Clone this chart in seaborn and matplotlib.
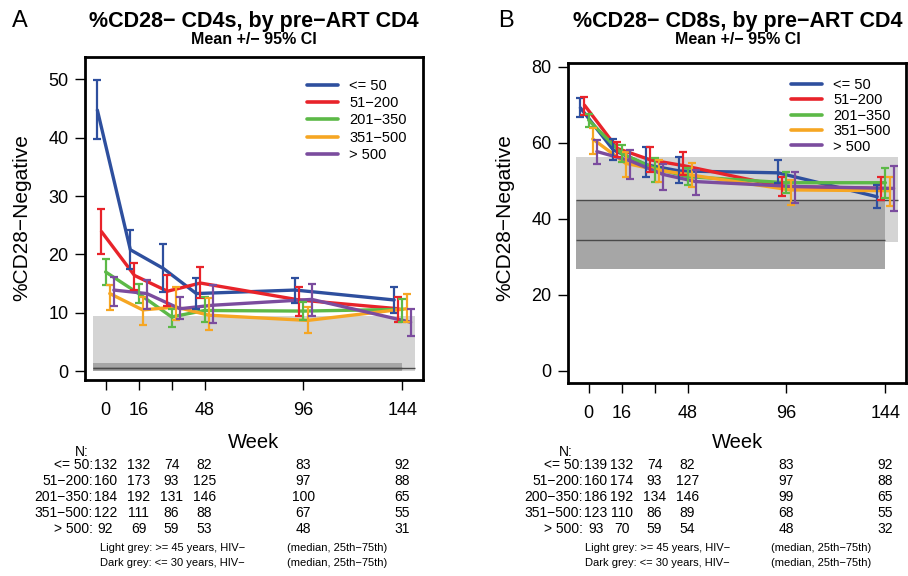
import numpy as np
import pandas as pd
import seaborn as sns
import matplotlib.pyplot as plt
from matplotlib import transforms

sns.set_style("ticks")
plt.rcParams['font.family'] = ['Liberation Sans', 'DejaVu Sans']
plt.rcParams['text.color'] = 'black'
plt.rcParams['axes.labelcolor'] = 'black'
plt.rcParams['xtick.color'] = 'black'
plt.rcParams['ytick.color'] = 'black'

M = "\u2212"

weeks = [0, 16, 32, 48, 96, 144]
groups = ["<= 50", "51" + M + "200", "201" + M + "350", "351" + M + "500", "> 500"]
offsets = [-4, -2, 0, 2, 4]  # small horizontal dodge per group
colors = ["#2E4F9E", "#E8232A", "#5CB947", "#F6A623", "#7B4C9E"]

# panel A: %CD28- CD4s (mean, lower CI, upper CI per group)
cd4_mean = [
    [44.7, 20.8, 17.6, 13.3, 13.9, 12.2],
    [23.9, 16.4, 13.7, 15.1, 12.2, 10.7],
    [17.0, 13.3, 9.3, 10.4, 10.3, 10.6],
    [13.3, 10.5, 11.0, 9.6, 8.7, 10.7],
    [13.9, 13.3, 10.7, 11.3, 12.3, 8.4],
]
cd4_lo = [
    [39.7, 17.5, 13.5, 10.6, 11.6, 9.9],
    [20.1, 13.9, 11.2, 12.5, 9.4, 8.4],
    [14.7, 11.6, 7.6, 8.4, 8.7, 8.4],
    [10.4, 7.9, 8.7, 7.1, 6.5, 8.4],
    [11.1, 10.7, 9.0, 8.2, 9.4, 6.0],
]
cd4_hi = [
    [49.8, 24.1, 21.7, 16.0, 16.0, 14.4],
    [27.7, 18.6, 16.4, 17.8, 14.4, 12.7],
    [19.2, 15.0, 10.7, 12.7, 11.9, 12.3],
    [14.7, 12.7, 14.4, 12.5, 11.0, 13.3],
    [16.1, 15.6, 12.7, 14.7, 15.0, 10.7],
]

# panel B: %CD28- CD8s
cd8_mean = [
    [69.2, 58.1, 54.2, 52.6, 52.1, 45.8],
    [69.9, 58.5, 55.5, 54.0, 48.5, 48.0],
    [66.0, 57.2, 53.3, 51.1, 49.5, 49.5],
    [61.0, 54.6, 52.8, 51.5, 47.6, 47.4],
    [57.7, 55.3, 51.7, 49.8, 48.5, 48.0],
]
cd8_lo = [
    [66.7, 55.5, 51.1, 49.3, 49.3, 42.8],
    [67.3, 56.3, 52.2, 51.5, 46.0, 45.0],
    [64.2, 55.0, 49.8, 48.8, 46.7, 45.4],
    [57.0, 51.1, 49.8, 48.5, 43.6, 43.4],
    [54.3, 50.6, 47.6, 46.3, 44.2, 42.1],
]
cd8_hi = [
    [71.8, 61.0, 59.0, 56.3, 55.5, 48.9],
    [72.1, 60.3, 58.8, 57.7, 51.1, 50.9],
    [67.7, 59.3, 55.9, 53.5, 52.4, 53.3],
    [64.0, 57.7, 55.5, 54.6, 50.2, 51.1],
    [60.7, 58.1, 54.3, 52.8, 52.4, 53.9],
]

# HIV- reference ranges: (25th, median, 75th) and week span
cd4_light = [0.0, 0.6, 9.4]
cd4_dark = [0.0, 0.6, 1.4]
cd8_light = [34.0, 45.0, 56.2]
cd8_dark = [26.7, 34.4, 45.0]
light_span = [-6, 150]
dark_span = [-6, 144]

# N at risk tables
row_labels_a = ["<= 50:", "51" + M + "200:", "201" + M + "350:", "351" + M + "500:", "> 500:"]
row_labels_b = ["<= 50:", "51" + M + "200:", "200" + M + "350:", "351" + M + "500:", "> 500:"]
n_a = [
    [132, 132, 74, 82, 83, 92],
    [160, 173, 93, 125, 97, 88],
    [184, 192, 131, 146, 100, 65],
    [122, 111, 86, 88, 67, 55],
    [92, 69, 59, 53, 48, 31],
]
n_b = [
    [139, 132, 74, 82, 83, 92],
    [160, 174, 93, 127, 97, 88],
    [186, 192, 134, 146, 99, 65],
    [123, 110, 86, 89, 68, 55],
    [93, 70, 59, 54, 48, 32],
]

W, H = 908, 576
fig = plt.figure(figsize=(9.08, 5.76), dpi=100)


def fy(px):
    return 1 - px / H


def draw_panel(ax, means, los, his, light, dark, ylim, yticks, leg_anchor, leg_spacing):
    rows = []
    for g, off, m, lo, hi in zip(groups, offsets, means, los, his):
        for w, mv, l, h in zip(weeks, m, lo, hi):
            rows.append({"group": g, "x": w + off, "mean": mv, "lo": l, "hi": h})
    df = pd.DataFrame(rows)

    ax.fill_between(light_span, light[0], light[2], color="#d4d4d4", lw=0, zorder=0)
    ax.fill_between(dark_span, dark[0], dark[2], color="#a6a6a6", lw=0, zorder=0.5)
    ax.hlines(light[1], light_span[0], light_span[1], color="#4a4a4a", lw=1, zorder=0.8)
    ax.hlines(dark[1], dark_span[0], dark_span[1], color="#4a4a4a", lw=1, zorder=0.8)

    sns.lineplot(data=df, x="x", y="mean", hue="group", hue_order=groups,
                 palette=colors, estimator=None, sort=False, lw=2.4, ax=ax)
    for g, c in zip(groups, colors):
        d = df[df.group == g]
        ax.errorbar(d["x"], d["mean"], yerr=[d["mean"] - d["lo"], d["hi"] - d["mean"]],
                     fmt="none", ecolor=c, elinewidth=1.6, capsize=3, capthick=1.6, zorder=3)

    handles, labels = ax.get_legend_handles_labels()
    leg = ax.legend(handles, labels, loc="upper left", bbox_to_anchor=leg_anchor,
                    frameon=False, fontsize=10.5, handlelength=2.1, handletextpad=0.8,
                    labelspacing=leg_spacing, borderpad=0, borderaxespad=0)
    for h in leg.get_lines():
        h.set_linewidth(2.6)

    ax.set_xlim(-10, 154)
    ax.set_ylim(*ylim)
    ax.set_xticks(weeks)
    ax.set_xticklabels(["0", "16", "", "48", "96", "144"])
    ax.set_yticks(yticks)
    ax.tick_params(direction="out", length=7, width=1, labelsize=13, colors="black")
    ax.tick_params(axis="y", pad=5)
    ax.tick_params(axis="x", pad=9)
    for s in ax.spines.values():
        s.set_visible(True)
        s.set_linewidth(2)
        s.set_color("black")
    ax.set_xlabel("")
    ax.set_ylabel("")


axA = fig.add_axes([85 / W, fy(380), 338 / W, 323 / H])
axB = fig.add_axes([568 / W, fy(383), 338 / W, 320 / H])

draw_panel(axA, cd4_mean, cd4_lo, cd4_hi, cd4_light, cd4_dark,
           (-1.5, 53.8), [0, 10, 20, 30, 40, 50], (0.657, 0.933), 0.23)
draw_panel(axB, cd8_mean, cd8_lo, cd8_hi, cd8_light, cd8_dark,
           (-3.2, 81), [0, 20, 40, 60, 80], (0.66, 0.954), 0.1)

# ax, letter, title, letter x, ylabel x, centre x, row labels, N, label right x, "N:" x,
# footnote x1, footnote x2, shift of first N column (weeks)
panels = [
    (axA, "A", "%CD28" + M + " CD4s, by pre" + M + "ART CD4", 12, 22, 254, row_labels_a, n_a, 93, 82, 100, 287, 0),
    (axB, "B", "%CD28" + M + " CD8s, by pre" + M + "ART CD4", 498, 505, 738, row_labels_b, n_b, 583, 566, 585, 771, 3.5),
]
row_y = [465, 481, 497, 513, 529]

for ax, letter, title, lx, ylx, cx, rlabels, nvals, rx, nx, fx1, fx2, shift0 in panels:
    fig.text(lx / W, fy(27), letter, fontsize=17, va="baseline", ha="left")
    fig.text(cx / W, fy(27), title, fontsize=15.5, fontweight="bold", va="baseline", ha="center")
    fig.text(cx / W, fy(44), "Mean +/" + M + " 95% CI", fontsize=11.5, fontweight="bold",
             va="baseline", ha="center")
    fig.text(ylx / W, fy(218), "%CD28" + M + "Negative", fontsize=15, rotation=90,
             va="center", ha="center")
    fig.text(cx / W, fy(443), "Week", fontsize=14.5, va="center", ha="center")

    trans = transforms.blended_transform_factory(ax.transData, fig.transFigure)
    fig.text(nx / W, fy(452), "N:", fontsize=10, va="center", ha="center")
    col_x = [weeks[0] + shift0] + weeks[1:]
    for lab, nrow, yy in zip(rlabels, nvals, row_y):
        fig.text(rx / W, fy(yy), lab, fontsize=10, va="center", ha="right")
        for w, n in zip(col_x, nrow):
            ax.text(w, fy(yy), str(n), transform=trans, fontsize=10,
                    va="center", ha="center", clip_on=False)

    fig.text(fx1 / W, fy(548), "Light grey: >= 45 years, HIV" + M, fontsize=8, va="center", ha="left")
    fig.text(fx2 / W, fy(548), "(median, 25th" + M + "75th)", fontsize=8, va="center", ha="left")
    fig.text(fx1 / W, fy(563), "Dark grey: <= 30 years, HIV" + M, fontsize=8, va="center", ha="left")
    fig.text(fx2 / W, fy(563), "(median, 25th" + M + "75th)", fontsize=8, va="center", ha="left")

fig.savefig("out.png", dpi=100)
